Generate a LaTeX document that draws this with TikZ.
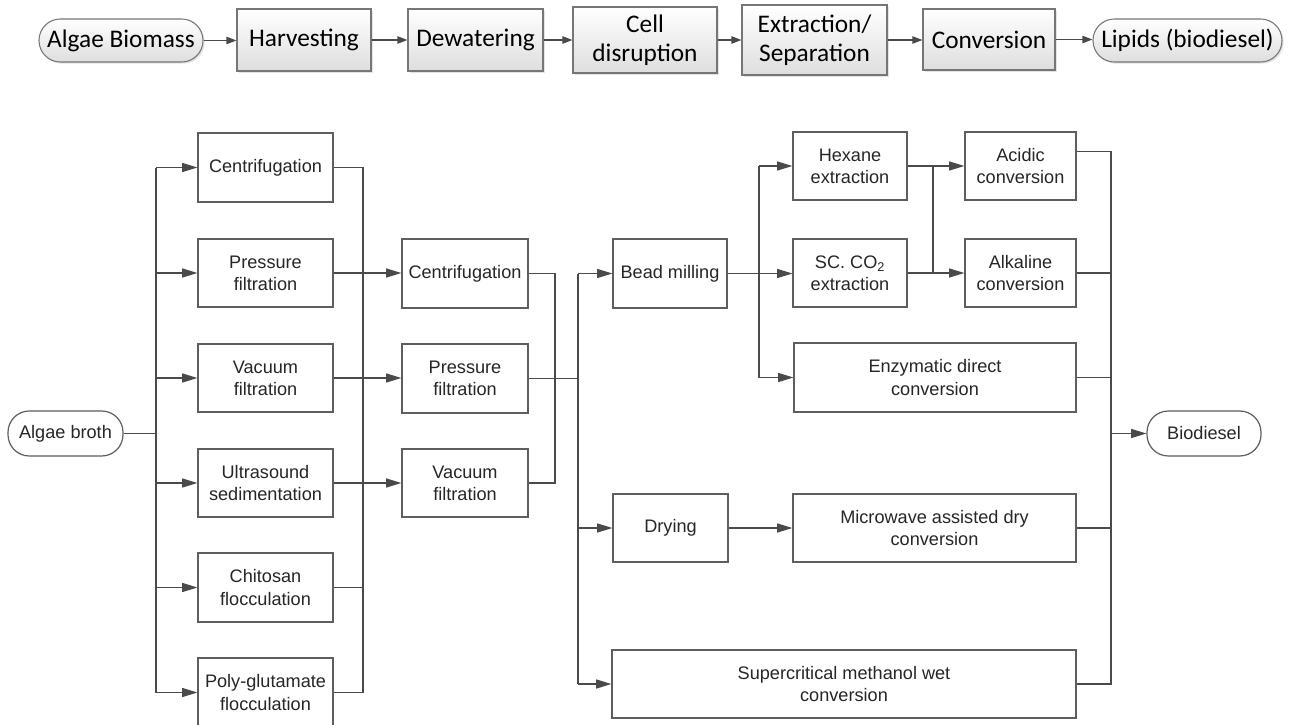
\documentclass[tikz,border=0pt]{standalone}
\usepackage{fontspec}
\setmainfont{Liberation Sans}
\newfontfamily\stagefont{Carlito}
\usetikzlibrary{arrows.meta,shadows}
\definecolor{linegray}{HTML}{4A4A4A}
\definecolor{boxgray}{HTML}{5E5E5E}
\definecolor{textgray}{HTML}{262626}
\begin{document}
\begin{tikzpicture}[x=0.75pt,y=-0.75pt,
  % place a box by its left, top, right and bottom edges
  span/.style args={#1/#2/#3/#4}{at={({(#1+#3)/2},{(#2+#4)/2})}, anchor=center,
    minimum width={(#3-#1)*0.75pt}, minimum height={(#4-#2)*0.75pt}},
  proc/.style={draw=boxgray, line width=0.9pt, fill=white, inner sep=0pt,
    align=center, text=textgray, font=\fontsize{13.6}{16.6}\selectfont},
  term/.style={proc, rounded corners=16pt},
  stage/.style={draw=boxgray!85, line width=0.8pt, top color=white,
    bottom color=black!13, inner sep=0pt, align=center, text=black,
    font=\stagefont\fontsize{19}{22}\selectfont,
    drop shadow={opacity=0.22, shadow xshift=1.3pt, shadow yshift=-1.3pt}},
  stagepill/.style={stage, rounded corners=16pt},
  link/.style={draw=linegray, line width=0.9pt},
  flow/.style={link, -{Triangle[length=11.5pt,width=6.8pt]}},
  topflow/.style={link, -{Triangle[length=7.5pt,width=5.5pt]}},
]
\useasboundingbox (0,0) rectangle (1293,725);

% ---------- overview chain ----------
\node[stagepill, span=39/19/203/62]   (bio)  {Algae Biomass};
\node[stage, span=237/9/371/71]       (harv) {Harvesting};
\node[stage, span=408/9/543/71]       (dew)  {Dewatering};
\node[stage, span=573/7/717/73]       (cell) {Cell\\disruption};
\node[stage, span=742/5/887/75]       (extr) {Extraction/\\Separation};
\node[stage, span=923/9/1055/70]      (conv) {Conversion};
\node[stagepill, span=1093/19/1282/62] (lip) {Lipids (biodiesel)};

\draw[topflow] (bio.east)  -- (bio.east -| harv.west);
\draw[topflow] (harv.east) -- (harv.east -| dew.west);
\draw[topflow] (dew.east)  -- (dew.east -| cell.west);
\draw[topflow] (cell.east) -- (cell.east -| extr.west);
\draw[topflow] (extr.east) -- (extr.east -| conv.west);
\draw[topflow] (conv.east) -- (conv.east -| lip.west);

% ---------- detailed process ----------
\node[term, span=8/411/123/456] (broth) {Algae broth};

% harvesting options
\node[proc, span=198/133/333/202] (h1) {Centrifugation};
\node[proc, span=198/239/333/307] (h2) {Pressure\\filtration};
\node[proc, span=198/344/333/412] (h3) {Vacuum\\filtration};
\node[proc, span=198/449/333/517] (h4) {Ultrasound\\sedimentation};
\node[proc, span=198/553/333/622] (h5) {Chitosan\\flocculation};
\node[proc, span=198/658/333/727] (h6) {Poly-glutamate\\flocculation};

% dewatering options
\node[proc, span=402/239/528/308] (d1) {Centrifugation};
\node[proc, span=402/344/528/413] (d2) {Pressure\\filtration};
\node[proc, span=402/449/528/517] (d3) {Vacuum\\filtration};

% disruption, extraction and conversion
\node[proc, span=613/239/727/308]  (bead) {Bead milling};
\node[proc, span=613/494/728/562]  (dry)  {Drying};
\node[proc, span=612/650/1076/718] (scm)  {Supercritical methanol wet\\conversion};
\node[proc, span=793/132/907/200]  (hex)  {Hexane\\extraction};
\node[proc, span=793/239/907/307]  (sco)  {SC. CO\textsubscript{2}\\extraction};
\node[proc, span=794/343/1076/412] (enz)  {Enzymatic direct\\conversion};
\node[proc, span=965/132/1076/200] (aci)  {Acidic\\conversion};
\node[proc, span=965/239/1076/307] (alk)  {Alkaline\\conversion};
\node[proc, span=793/494/1076/562] (mic)  {Microwave assisted dry\\conversion};
\node[term, span=1147/411/1261/456] (bdsl) {Biodiesel};

% bus lines
\coordinate (bus0)  at (156,0);
\coordinate (bus1)  at (363,0);
\coordinate (bus2a) at (555,0);
\coordinate (bus2)  at (578,0);
\coordinate (bus3)  at (759,0);
\coordinate (bus4)  at (933,0);
\coordinate (bus5)  at (1111,0);

% broth to harvesting options
\draw[link] (broth.east) -- (broth.east -| bus0);
\draw[link] (bus0 |- h1.west) -- (bus0 |- h6.west);
\foreach \h in {h1,h2,h3,h4,h5,h6}
  \draw[flow] (bus0 |- \h.west) -- (\h.west);

% harvesting to dewatering
\draw[link] (h1.east) -- (h1.east -| bus1) -- (h6.east -| bus1) -- (h6.east);
\draw[link] (h5.east) -- (h5.east -| bus1);
\draw[flow] (h2.east) -- (h2.east -| d1.west);
\draw[flow] (h3.east) -- (h3.east -| d2.west);
\draw[flow] (h4.east) -- (h4.east -| d3.west);

% dewatering to disruption / conversion routes
\draw[link] (d1.east) -- (d1.east -| bus2a) -- (d3.east -| bus2a) -- (d3.east);
\draw[link] (d2.east) -- (d2.east -| bus2);
\draw[link] (bus2 |- bead.west) -- (bus2 |- scm.west);
\draw[flow] (bus2 |- bead.west) -- (bead.west);
\draw[flow] (bus2 |- dry.west) -- (dry.west);
\draw[flow] (bus2 |- scm.west) -- (scm.west);

% bead milling to extraction
\draw[flow] (bead.east) -- (bead.east -| sco.west);
\draw[link] (bus3 |- hex.west) -- (bus3 |- enz.west);
\draw[flow] (bus3 |- hex.west) -- (hex.west);
\draw[flow] (bus3 |- enz.west) -- (enz.west);

% extraction to conversion
\draw[flow] (hex.east) -- (hex.east -| aci.west);
\draw[flow] (sco.east) -- (sco.east -| alk.west);
\draw[link] (bus4 |- hex.east) -- (bus4 |- sco.east);
\draw[flow] (dry.east) -- (dry.east -| mic.west);

% conversions to biodiesel
\coordinate (aout) at ([yshift=-15pt]aci.north east);
\draw[link] (aout) -- (aout -| bus5) -- (bus5 |- scm.east) -- (scm.east);
\draw[link] (alk.east) -- (alk.east -| bus5);
\draw[link] (enz.east) -- (enz.east -| bus5);
\draw[link] (mic.east) -- (mic.east -| bus5);
\draw[flow] (bus5 |- bdsl.west) -- (bdsl.west);
\end{tikzpicture}
\end{document}
